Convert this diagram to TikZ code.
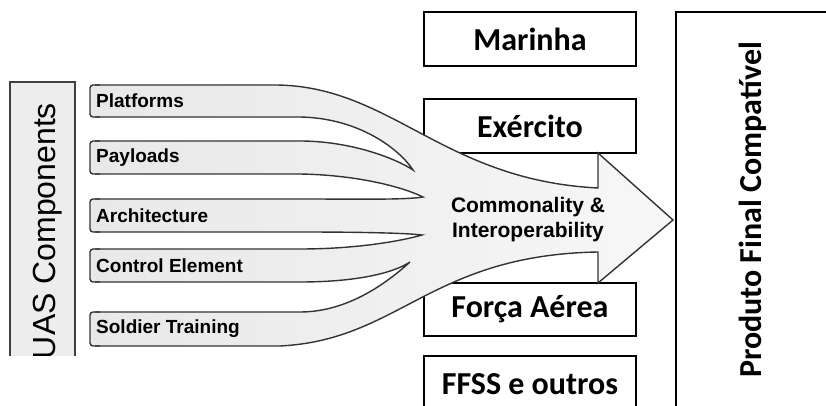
\documentclass[tikz,border=0pt]{standalone}
\usepackage{fontspec}
\setmainfont{Liberation Sans}
\newfontfamily\calibri{Carlito}
\usetikzlibrary{positioning}

\begin{document}
\begin{tikzpicture}[x=1pt, y=-1pt,
    bandline/.style={draw=black!80, line width=1.4pt},
    bandlabel/.style={anchor=west, inner sep=0pt, font=\bfseries\fontsize{19}{20}\selectfont},
    forcebox/.style={draw, line width=1.1pt, minimum width=212pt, minimum height=54pt, inner sep=0pt, font=\calibri\bfseries\fontsize{32}{34}\selectfont},
    finger/.style={fill=white}]
    \useasboundingbox (0,0) rectangle (826,406);

    % 右侧框
    \node[forcebox] (marinha) at (530,39) {Marinha};
    \node[forcebox] (exercito) at (530,126) {Exército};
    \node[forcebox, minimum height=53pt] (forca) at (530,309.5) {Força Aérea};
    \draw[line width=1.1pt] (424,406) -- (424,356) -- (636,356) -- (636,406);
    \node[font=\calibri\bfseries\fontsize{32}{34}\selectfont] (ffss) at (530,384) {FFSS e outros};

    \draw[line width=1.1pt] (826,12) -- (676,12) -- (676,406);
    \node[rotate=90, font=\calibri\bfseries\fontsize{32}{34}\selectfont] (produto) at (753,210) {Produto Final Compatível};

    % 左侧框
    \begin{scope}
        \clip (0,0) rectangle (90,355);
        \filldraw[fill=gray!14, draw=black!75, line width=1.4pt] (10,360) -- (10,82) -- (75,82) -- (75,360);
        \node[rotate=90, font=\fontsize{32}{34}\selectfont] (uas) at (48,231) {UAS Components};
    \end{scope}

    % 箭头
    \shade[left color=gray!18, right color=gray!6]
        (90,85) -- (270,85) .. controls (390,83) and (440,180) .. (598,188)
        -- (598,153) -- (673,220) -- (598,283) -- (598,252)
        .. controls (430,255) and (400,340) .. (280,346) -- (90,346) -- cycle;

    % 手指间隙
    \fill[finger] (88,117) -- (300,117) .. controls (360,118) and (400,150) .. (413,170)
        .. controls (395,158) and (350,141) .. (300,141) -- (88,141) -- cycle;
    \fill[finger] (88,174) -- (300,174) .. controls (360,175) and (405,188) .. (423,197)
        .. controls (405,200) and (360,199) .. (300,199) -- (88,199) -- cycle;
    \fill[finger] (88,232) -- (300,232) .. controls (360,232) and (405,233) .. (422,235)
        .. controls (405,240) and (360,249) .. (300,249) -- (88,249) -- cycle;
    \fill[finger] (88,282) -- (300,282) .. controls (360,282) and (395,272) .. (410,262)
        .. controls (390,280) and (350,312) .. (300,312) -- (88,312) -- cycle;

    \draw[bandline] (95,117) -- (300,117) .. controls (360,118) and (400,150) .. (413,170)
        .. controls (395,158) and (350,141) .. (300,141) -- (95,141);
    \draw[bandline] (95,174) -- (300,174) .. controls (360,175) and (405,188) .. (423,197)
        .. controls (405,200) and (360,199) .. (300,199) -- (95,199);
    \draw[bandline] (95,232) -- (300,232) .. controls (360,232) and (405,233) .. (422,235)
        .. controls (405,240) and (360,249) .. (300,249) -- (95,249);
    \draw[bandline] (95,282) -- (300,282) .. controls (360,282) and (395,272) .. (410,262)
        .. controls (390,280) and (350,312) .. (300,312) -- (95,312);

    \draw[bandline] (95,85) -- (270,85) .. controls (390,83) and (440,180) .. (598,188)
        -- (598,153) -- (673,220) -- (598,283) -- (598,252)
        .. controls (430,255) and (400,340) .. (280,346) -- (95,346);

    % 左端
    \foreach \t/\b in {85/117, 141/174, 199/232, 249/282, 312/346} {
        \draw[bandline, rounded corners=3pt] (100,\b) -- (90,\b) -- (90,\t) -- (100,\t);
    }

    % 标签
    \node[bandlabel] (platforms) at (96,101) {Platforms};
    \node[bandlabel] (payloads) at (96,157.5) {Payloads};
    \node[bandlabel] (architecture) at (96,215.5) {Architecture};
    \node[bandlabel] (control) at (96,265.5) {Control Element};
    \node[bandlabel] (soldier) at (96,329) {Soldier Training};

    \node[align=center, font=\bfseries\fontsize{21}{25}\selectfont] (common) at (528,220) {Commonality \&\\Interoperability};
\end{tikzpicture}
\end{document}
